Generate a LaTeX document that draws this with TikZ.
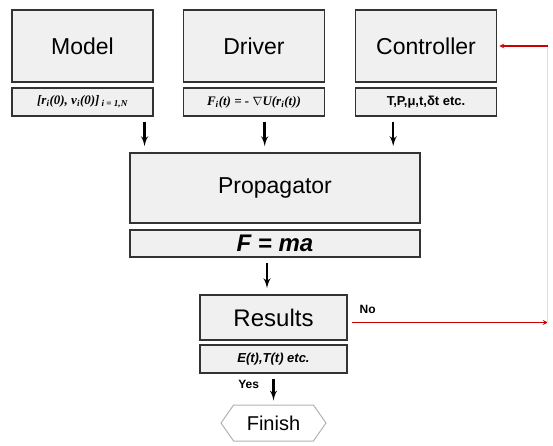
\documentclass[tikz,border=0pt]{standalone}
\usepackage{fontspec}
\setmainfont{Liberation Sans}
\newfontfamily\serf{Liberation Serif}
\usetikzlibrary{shapes,arrows}
\usetikzlibrary{calc}
\tikzstyle{mainblock} = [rectangle, draw=black!80, line width=1.6pt, fill=gray!12,
    minimum width=141pt, minimum height=72pt, inner sep=0pt, font=\fontsize{23}{26}\selectfont]
\tikzstyle{subblock} = [rectangle, draw=black!80, line width=1.6pt, fill=gray!12,
    minimum width=141pt, minimum height=28pt, inner sep=0pt, font=\fontsize{13}{15}\selectfont\bfseries]
\tikzstyle{finishblock} = [signal, signal to=east and west, signal pointer angle=110, draw=gray!60,
    line width=1pt, fill=white, minimum width=105pt, minimum height=36pt, inner sep=2pt,
    font=\fontsize{20}{24}\selectfont]
\tikzstyle{line} = [draw, line width=2.4pt, -latex']
\tikzstyle{fbline} = [draw, red!80!black, line width=1.2pt]

\begin{document}
\begin{tikzpicture}[x=1pt, y=-1pt]
    \useasboundingbox (0,0) rectangle (553,446);
    \node [mainblock] (model) at (82.5,46) {Model};
    \node [subblock, below of=model, node distance=56pt] (modelsub)
        {\serf\itshape [r\textsubscript{i}(0), v\textsubscript{i}(0)]\,\textsubscript{i = 1,N}};
    \node [mainblock, right of=model, node distance=171.5pt] (driver) {Driver};
    \node [subblock, below of=driver, node distance=56pt] (driversub)
        {\serf\itshape F\textsubscript{i}(t) = - $\nabla$U(r\textsubscript{i}(t))};
    \node [mainblock, right of=driver, node distance=172pt] (controller) {Controller};
    \node [subblock, below of=controller, node distance=56pt] (controllersub) {T,P,μ,t,δt etc.};
    \node [mainblock, minimum width=290pt, minimum height=70pt] (propagator) at (275,188) {Propagator};
    \node [subblock, minimum width=290pt, minimum height=27pt, below of=propagator, node distance=55.5pt,
        font=\fontsize{24}{26}\selectfont\bfseries\itshape] (fma) {F = ma};
    \node [mainblock, minimum width=147pt, minimum height=45pt, font=\fontsize{24}{26}\selectfont]
        (results) at (273.5,317.5) {Results};
    \node [subblock, minimum width=147pt, below of=results, node distance=41.5pt,
        font=\fontsize{13}{15}\selectfont\bfseries\itshape] (resultssub) {E(t),T(t) etc.};
    \node [finishblock, below of=resultssub, node distance=64pt] (finish) {Finish};

    % inputs to the propagator
    \coordinate (modelout) at ($(modelsub.south)!0.87!(modelsub.south east)$);
    \coordinate (driverout) at ($(driversub.south)!0.15!(driversub.south east)$);
    \coordinate (controllerout) at ($(controllersub.south)!0.46!(controllersub.south west)$);
    \path [line, shorten <=5pt, shorten >=6pt] (modelout) -- (modelout |- propagator.north);
    \path [line, shorten <=5pt, shorten >=6pt] (driverout) -- (driverout |- propagator.north);
    \path [line, shorten <=5pt, shorten >=6pt] (controllerout) -- (controllerout |- propagator.north);

    % propagator -> results -> finish
    \coordinate (fmaout) at ($(fma.south)+(-8pt,0)$);
    \path [line, shorten <=5pt, shorten >=6pt] (fmaout) -- (fmaout |- results.north);
    \path [line, shorten <=5pt, shorten >=4pt] (resultssub.south) --
        node[left, xshift=-10pt, pos=0.35, font=\fontsize{12}{14}\selectfont\bfseries] {Yes} (resultssub.south |- finish.north);

    % back to the controller
    \coordinate (nostart) at ($(results.east)+(4pt,-5pt)$);
    \coordinate (noturn) at ($(results.east)+(200pt,-5pt)$);
    \coordinate (topturn) at (noturn |- controller.east);
    \path [fbline, -stealth] (nostart) --
        node[above right, yshift=5pt, pos=0.02, black, font=\fontsize{12}{14}\selectfont\bfseries] {No} (noturn);
    \path [fbline, red!18, line width=0.8pt] (noturn) -- (topturn);
    \path [fbline, -stealth, shorten >=2pt] (topturn) -- (controller.east);
\end{tikzpicture}
\end{document}
